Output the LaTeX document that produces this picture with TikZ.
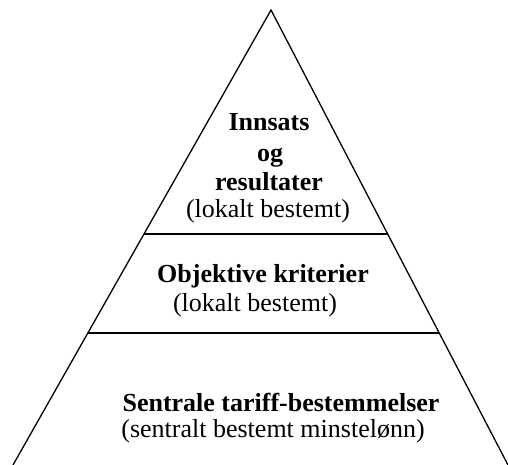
\documentclass[tikz,border=0pt]{standalone}
\usepackage{fontspec}
\setmainfont{Liberation Serif}
\usetikzlibrary{calc}
\begin{document}
\begin{tikzpicture}[x=1pt,y=-1pt,
  side/.style={line width=1.3pt},
  divider/.style={line width=1.7pt},
  bold/.style={anchor=base,inner sep=0pt,font=\fontsize{26}{30}\selectfont\bfseries},
  plain/.style={anchor=base,inner sep=0pt,font=\fontsize{26}{30}\selectfont}]
\useasboundingbox (0,0) rectangle (508,465);
\coordinate (apex) at (271,10);
\coordinate (bl) at (13,465);
\coordinate (br) at (508,465);
\draw[side] (bl) -- (apex) -- (br);
% dividers
\coordinate (d1l) at ($(apex)!{(234-10)/455}!(bl)$);
\coordinate (d1r) at ($(apex)!{(234-10)/455}!(br)$);
\coordinate (d2l) at ($(apex)!{(333-10)/455}!(bl)$);
\coordinate (d2r) at ($(apex)!{(333-10)/455}!(br)$);
\draw[divider] (d1l) -- (d1r);
\draw[divider] (d2l) -- (d2r);
% top block
\node[bold] (t1) at (269,131) {Innsats};
\node[bold] (t2) at (270,162) {og};
\node[bold] (t3) at (269,190) {resultater};
\node[plain] (t4) at (268,217) {(lokalt bestemt)};
% middle block
\node[bold] (m1) at (263,282) {Objektive kriterier};
\node[plain] (m2) at (255,311) {(lokalt bestemt)};
% bottom block
\node[bold] (b1) at (281,411) {Sentrale tariff-bestemmelser};
\node[plain] (b2) at (273,437) {(sentralt bestemt minstelønn)};
\end{tikzpicture}
\end{document}
